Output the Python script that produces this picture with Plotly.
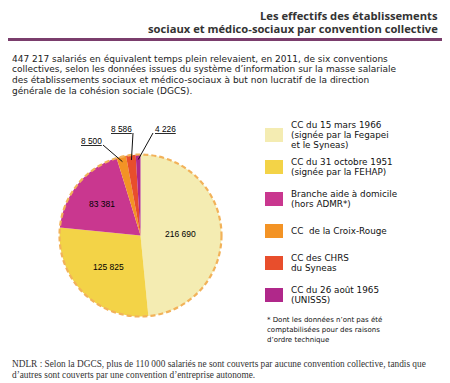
import math
import plotly.graph_objects as go

# ---------------- data ----------------
CATEGORIES = [
    "CC du 15 mars 1966<br>(signée par la Fegapei<br>et le Syneas)",
    "CC du 31 octobre 1951<br>(signée par la FEHAP)",
    "Branche aide à domicile<br>(hors ADMR*)",
    "CC  de la Croix-Rouge",
    "CC des CHRS<br>du Syneas",
    "CC du 26 août 1965<br>(UNISSS)",
]
VALUES = [216690, 125825, 83381, 8500, 8586, 4226]
COLORS = ["#f4ecb2", "#f3d347", "#c9378f", "#f39325", "#e84e2c", "#b0288a"]

TITLE_LINES = ["Les effectifs des établissements",
               "sociaux et médico-sociaux par convention collective"]
PARA_LINES = [
    "447 217 salariés en équivalent temps plein relevaient, en 2011, de six conventions",
    "collectives, selon les données issues du système d’information sur la masse salariale",
    "des établissements sociaux et médico-sociaux à but non lucratif de la direction",
    "générale de la cohésion sociale (DGCS).",
]
FOOT_LINES = ["* Dont les données n’ont pas été",
              "comptabilisées pour des raisons",
              "d’ordre technique"]
NOTE_LINES = [
    "NDLR : Selon la DGCS, plus de 110 000 salariés ne sont couverts par aucune convention collective, tandis que",
    "d’autres sont couverts par une convention d’entreprise autonome.",
]

def fmt(v):
    return f"{v:,}".replace(",", " ")

# ---------------- layout geometry ----------------
W, H = 450, 383
CX, CY, R = 132.5, 227.5, 81

def px(x, y):
    return x / W, 1 - y / H

fig = go.Figure(go.Pie(
    labels=[c.replace("<br>", " ") for c in CATEGORIES], values=VALUES,
    textinfo="none",
    marker=dict(colors=COLORS, line=dict(width=0)),
    sort=False, direction="clockwise", rotation=0,
    domain=dict(x=[(CX - R) / W, (CX + R) / W], y=[1 - (CY + R) / H, 1 - (CY - R) / H]),
    hoverinfo="label+value", showlegend=False,
))

shapes = []
annotations = []

def note(text, x, y, size, family, color="#111", anchor="left"):
    xx, yy = px(x, y)
    annotations.append(dict(text=text, x=xx, y=yy, xref="paper", yref="paper",
                            xanchor=anchor, yanchor="middle", showarrow=False,
                            font=dict(family=family, size=size, color=color)))

# dashed outline around pie
shapes.append(dict(type="circle", xref="paper", yref="paper",
                   x0=(CX - R) / W, x1=(CX + R) / W,
                   y0=1 - (CY + R) / H, y1=1 - (CY - R) / H,
                   line=dict(color="#f2b25a", width=2.2, dash="5px,3px"), layer="above"))

# slice mid-angles from the data
T = sum(VALUES)
mids = []
cum = 0
for v in VALUES:
    mids.append((cum + v / 2) / T * 2 * math.pi)
    cum += v

# labels inside the large slices
INSIDE_FRAC = [0.5, 0.55, 0.62]
for i, f in enumerate(INSIDE_FRAC):
    a = mids[i]
    note(fmt(VALUES[i]), CX + f * R * math.sin(a), CY - f * R * math.cos(a),
         8.5, "Liberation Sans", color="#000", anchor="center")

# callouts for the small slices
CALLOUTS = {3: ((83, 133), (95, 137)), 4: ((113, 121), (125, 125)), 5: ((157, 121), (145, 125))}
for i, ((tx, ty), (sx, sy)) in CALLOUTS.items():
    a = mids[i]
    ex, ey = CX + (R - 5) * math.sin(a), CY - (R - 5) * math.cos(a)
    x0, y0 = px(sx, sy)
    x1, y1 = px(ex, ey)
    shapes.append(dict(type="line", xref="paper", yref="paper", x0=x0, y0=y0, x1=x1, y1=y1,
                       line=dict(color="#111", width=1), layer="above"))
    note(f"<u>{fmt(VALUES[i])}</u>", tx, ty, 8.3, "Liberation Sans", color="#000", anchor="center")

# legend (squares + labels)
for i, (lab, col) in enumerate(zip(CATEGORIES, COLORS)):
    yc = 127 + 32 * i
    x0, y0 = px(257, yc - 7)
    x1, y1 = px(275, yc + 7)
    shapes.append(dict(type="rect", xref="paper", yref="paper", x0=x0, x1=x1, y0=y0, y1=y1,
                       fillcolor=col, line=dict(width=0)))
    lines = lab.split("<br>")
    n = len(lines)
    for k, line in enumerate(lines):
        note(line, 281, yc + (k - (n - 1) / 2) * 10.5, 8.8, "DejaVu Sans")

# rules
for y, wdt in [(31.5, 3), (381, 2.5)]:
    shapes.append(dict(type="line", xref="paper", yref="paper", x0=0, x1=1,
                       y0=1 - y / H, y1=1 - y / H, line=dict(color="#7a3d6c", width=wdt)))

# title (left edges chosen so the lines end at the right margin)
for k, (line, x_left) in enumerate(zip(TITLE_LINES, [250, 138])):
    note(f"<b>{line}</b>", x_left, 7.5 + 12.5 * k, 11.2, "Open Sans", color="#333")
# paragraph
for k, line in enumerate(PARA_LINES):
    note(line, 2, 51 + 10.5 * k, 9.0, "DejaVu Sans", color="#222")
# footnote
for k, line in enumerate(FOOT_LINES):
    note(line, 257, 312 + 10 * k, 7, "DejaVu Sans")
# note
for k, line in enumerate(NOTE_LINES):
    note(line, 2, 356 + 11 * k, 9.3, "Liberation Serif", color="#333")

fig.update_layout(
    width=W, height=H, autosize=False,
    margin=dict(l=0, r=0, t=0, b=0),
    paper_bgcolor="white", plot_bgcolor="white",
    showlegend=False,
    shapes=shapes, annotations=annotations,
)

fig.write_html("out.html")
